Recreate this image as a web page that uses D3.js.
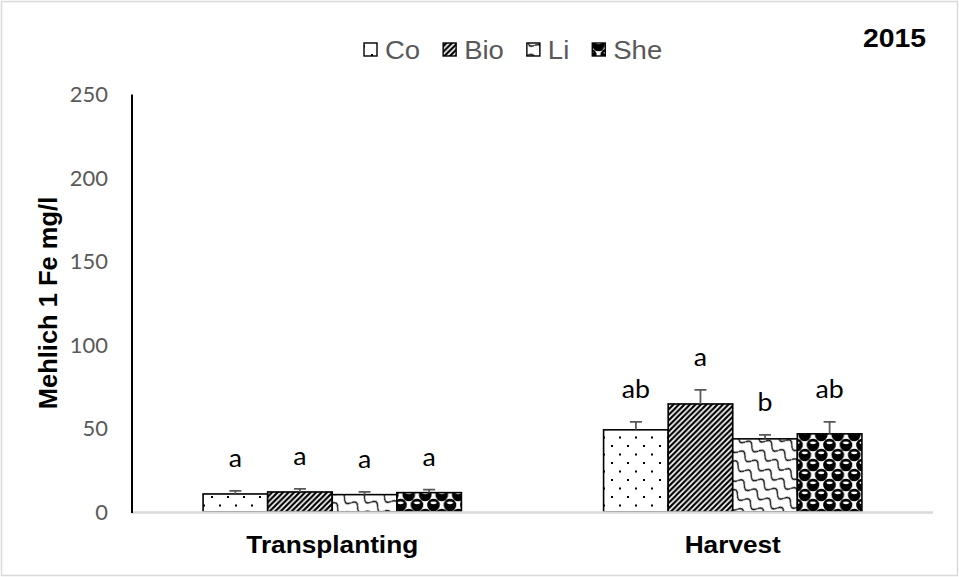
<!DOCTYPE html>
<html lang="en">
<head>
<meta charset="UTF-8">
<title>Mehlich 1 Fe 2015</title>
<script src="https://d3js.org/d3.v7.min.js"></script>
<style>
  body { margin: 0; background: #fff; }
  svg { display: block; }
</style>
</head>
<body>
<svg id="chart" width="959" height="577"></svg>
<script>
// data
const categories = ["Transplanting", "Harvest"];
const seriesNames = ["Co", "Bio", "Li", "She"];
const coValues = [10.8, 49.2];
const bioValues = [12.0, 64.7];
const liValues = [10.4, 43.8];
const sheValues = [11.6, 46.8];
const coErrors = [1.8, 4.8];
const bioErrors = [1.8, 8.4];
const liErrors = [1.6, 2.4];
const sheErrors = [1.8, 7.2];
const coLetters = ["a", "ab"];
const bioLetters = ["a", "a"];
const liLetters = ["a", "b"];
const sheLetters = ["a", "ab"];
const yTicks = [0, 50, 100, 150, 200, 250];

const values = [coValues, bioValues, liValues, sheValues];
const errors = [coErrors, bioErrors, liErrors, sheErrors];
const letters = [coLetters, bioLetters, liLetters, sheLetters];

const svg = d3.select("#chart");
const W = 959, H = 577;
const plotLeft = 132, plotRight = 933, plotTop = 94.5, plotBottom = 512;
const sx = 1.07; // text looks slightly stretched sideways in the reference

// chart border
svg.append("rect").attr("x", 1.5).attr("y", 1.5).attr("width", W - 3).attr("height", H - 3)
  .attr("fill", "#fff").attr("stroke", "#d9d9d9").attr("stroke-width", 1.5);

// patterns
const defs = svg.append("defs");
const pCo = defs.append("pattern").attr("id", "p-co").attr("patternUnits", "userSpaceOnUse")
  .attr("width", 16).attr("height", 17);
pCo.append("rect").attr("width", 16).attr("height", 17).attr("fill", "#fff");
pCo.append("rect").attr("x", 3).attr("y", 3).attr("width", 2).attr("height", 2).attr("fill", "#000");
pCo.append("rect").attr("x", 11).attr("y", 11.5).attr("width", 2).attr("height", 2).attr("fill", "#000");

const pBio = defs.append("pattern").attr("id", "p-bio").attr("patternUnits", "userSpaceOnUse")
  .attr("width", 5.5).attr("height", 5.5);
pBio.append("rect").attr("width", 5.5).attr("height", 5.5).attr("fill", "#fff");
pBio.append("path").attr("d", "M-1.5,1.5 l3,-3 M0,5.5 l5.5,-5.5 M4,7 l3,-3")
  .attr("stroke", "#000").attr("stroke-width", 2.2);

const pLi = defs.append("pattern").attr("id", "p-li").attr("patternUnits", "userSpaceOnUse")
  .attr("width", 16).attr("height", 12).attr("patternTransform", "rotate(35)");
pLi.append("rect").attr("width", 16).attr("height", 12).attr("fill", "#fff");
pLi.append("path").attr("d", "M0,6.5 Q4,0 8,6.5 T16,6.5").attr("fill", "none")
  .attr("stroke", "#000").attr("stroke-width", 1.4);

const pShe = defs.append("pattern").attr("id", "p-she").attr("patternUnits", "userSpaceOnUse")
  .attr("width", 16.5).attr("height", 20);
pShe.append("rect").attr("width", 16.5).attr("height", 20).attr("fill", "#fff");
[[4.5, 5], [12.75, 15], [-3.75, 15], [12.75, -5], [-3.75, -5], [4.5, 25], [21, 5]].forEach(([x, y]) => {
  pShe.append("circle").attr("cx", x).attr("cy", y).attr("r", 6.3).attr("fill", "#000");
  pShe.append("ellipse").attr("cx", x).attr("cy", y - 2.2).attr("rx", 3).attr("ry", 1.4).attr("fill", "#fff");
});
const fills = ["url(#p-co)", "url(#p-bio)", "url(#p-li)", "url(#p-she)"];

// scales
const x0 = d3.scaleBand().domain(categories).range([plotLeft, plotRight]);
const groupW = x0.bandwidth() * 0.645;
const x1 = d3.scaleBand().domain(seriesNames)
  .range([(x0.bandwidth() - groupW) / 2, (x0.bandwidth() + groupW) / 2]);
const y = d3.scaleLinear().domain([0, 250]).range([plotBottom, plotTop]);

// y tick labels (no tick marks)
const yAxis = svg.append("g").attr("transform", `translate(${plotLeft - 24},0)`)
  .call(d3.axisLeft(y).tickValues(yTicks).tickSize(0).tickPadding(0));
yAxis.select(".domain").remove();
yAxis.selectAll(".tick text")
  .attr("font-family", "Lato, sans-serif").attr("font-size", 20.5).attr("fill", "#595959")
  .attr("x", 0).attr("dy", "0.36em")
  .attr("transform", `scale(${sx},1)`);

// bars
const rows = [];
categories.forEach((c, ci) => seriesNames.forEach((s, si) => rows.push({
  c, s, si, v: values[si][ci], e: errors[si][ci], l: letters[si][ci]
})));

const g = svg.append("g");
g.selectAll("rect.bar").data(rows).enter().append("rect").attr("class", "bar")
  .attr("x", d => x0(d.c) + x1(d.s))
  .attr("y", d => y(d.v))
  .attr("width", x1.bandwidth())
  .attr("height", d => y(0) - y(d.v))
  .attr("fill", d => fills[d.si])
  .attr("stroke", "#000").attr("stroke-width", 1.6);

// x axis line (grey) and y axis line (black)
svg.append("line").attr("x1", plotLeft).attr("x2", plotRight)
  .attr("y1", plotBottom + 0.5).attr("y2", plotBottom + 0.5)
  .attr("stroke", "#d9d9d9").attr("stroke-width", 2.5);
svg.append("line").attr("x1", plotLeft).attr("x2", plotLeft).attr("y1", plotTop).attr("y2", plotBottom + 1)
  .attr("stroke", "#000").attr("stroke-width", 2);

// error bars (upper only)
const cx = d => x0(d.c) + x1(d.s) + x1.bandwidth() / 2;
g.selectAll("path.err").data(rows).enter().append("path").attr("class", "err")
  .attr("d", d => `M${cx(d)},${y(d.v)}V${y(d.v + d.e)}M${cx(d) - 6},${y(d.v + d.e)}H${cx(d) + 6}`)
  .attr("stroke", "#595959").attr("stroke-width", 1.8).attr("fill", "none");

// significance letters
g.selectAll("text.lab").data(rows).enter().append("text").attr("class", "lab")
  .attr("transform", d => `translate(${cx(d)},${y(d.v + d.e) - 24}) scale(${sx},1)`)
  .attr("text-anchor", "middle")
  .attr("font-family", "Lato, sans-serif").attr("font-size", 25).attr("fill", "#000")
  .text(d => d.l);

// category labels
svg.selectAll("text.cat").data(categories).enter().append("text").attr("class", "cat")
  .attr("transform", d => `translate(${x0(d) + x0.bandwidth() / 2},553) scale(${sx},1)`)
  .attr("text-anchor", "middle")
  .attr("font-family", "Liberation Sans, Arial, sans-serif").attr("font-weight", "bold")
  .attr("font-size", 24.5).attr("fill", "#000")
  .text(d => d);

// y axis title
svg.append("text")
  .attr("transform", "translate(57,303) rotate(-90)")
  .attr("text-anchor", "middle")
  .attr("font-family", "Liberation Sans, Arial, sans-serif").attr("font-weight", "bold")
  .attr("font-size", 25.5).attr("fill", "#000")
  .text("Mehlich 1 Fe mg/l");

// year
svg.append("text")
  .attr("transform", `translate(926,47) scale(${sx},1)`)
  .attr("text-anchor", "end")
  .attr("font-family", "Liberation Sans, Arial, sans-serif").attr("font-weight", "bold")
  .attr("font-size", 26.5).attr("fill", "#000")
  .text("2015");

// legend
let lx = 364;
const lsx = 1.1;
seriesNames.forEach((s, si) => {
  svg.append("rect").attr("x", lx).attr("y", 43).attr("width", 13).attr("height", 13)
    .attr("fill", fills[si]).attr("stroke", "#000").attr("stroke-width", 1.4);
  const t = svg.append("text")
    .attr("transform", `translate(${lx + 21},59) scale(${lsx},1)`)
    .attr("font-family", "Liberation Sans, Arial, sans-serif")
    .attr("font-size", 25).attr("fill", "#595959")
    .text(s);
  lx += 21 + t.node().getComputedTextLength() * lsx + 23;
});
</script>
</body>
</html>
